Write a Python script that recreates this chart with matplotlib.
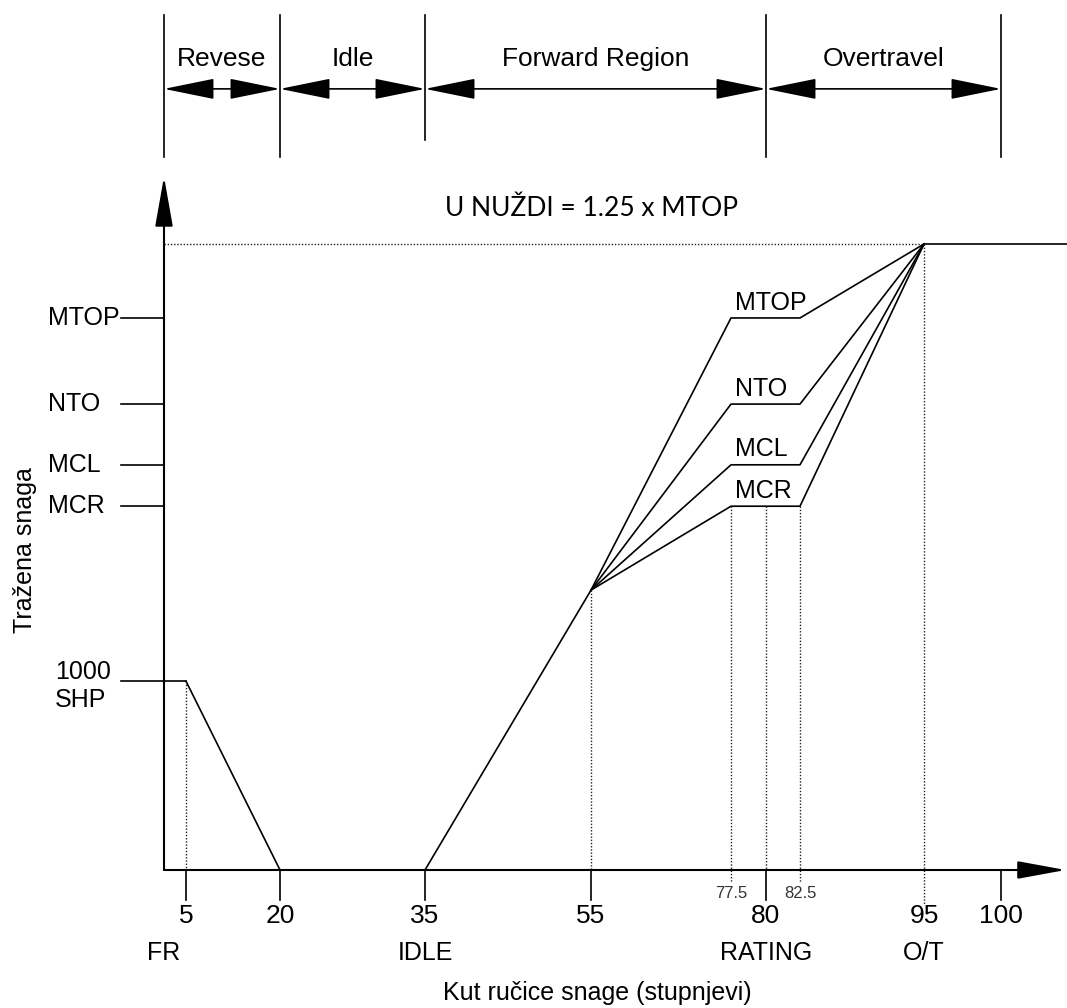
import matplotlib
matplotlib.use('Agg')
import matplotlib.pyplot as plt
import numpy as np

# power lever angle (deg) -- the sketch is not drawn to scale
x_ticks = [5, 20, 35, 55, 80, 100]
x_label_pos = [5, 20, 35, 55, 80, 95, 100]
x_tick_labels = ['5', '20', '35', '55', '80', '95', '100']
x_small_ticks = [77.5, 82.5]
x_small_labels = ['77.5', '82.5']
x_names_pos = [0, 35, 80, 95]
x_names = ['FR', 'IDLE', 'RATING', 'O/T']

region_edges = [0, 20, 35, 80, 100]
region_labels = ['Revese', 'Idle', 'Forward Region', 'Overtravel']

# demanded power, arbitrary units (MTOP = 100)
rating_names = ['MTOP', 'NTO', 'MCL', 'MCR']
rating_levels = [100.0, 84.4, 73.4, 65.9]
emergency_level = 113.4
shp_level = 34.2
fan_level = 50.7

fr_angle = 5
rev_end = 20
idle_angle = 35
fan_angle = 55
rating_lo, rating_mid, rating_hi = 77.5, 80, 82.5
ot_angle = 95

reverse_x = [fr_angle, rev_end]
reverse_y = [shp_level, 0]
forward_x = [idle_angle, fan_angle]
forward_y = [0, fan_level]

# schematic x scale (angle -> drawing position)
deg_anchor = np.array([-40, 0, 5, 20, 35, 55, 77.5, 80, 82.5, 95, 100, 110])
pos_anchor = np.array([0, 164, 186, 280, 425, 591, 731, 766, 800, 924, 1001, 1067], dtype=float)

def fwd(x):
    return np.interp(x, deg_anchor, pos_anchor)

def inv(p):
    return np.interp(p, pos_anchor, deg_anchor)

fs = 18
plt.rcParams['font.family'] = ['Liberation Sans', 'DejaVu Sans']

fig = plt.figure(figsize=(10.67, 10.08), dpi=100)
ax = fig.add_axes([0, 0, 1, 1])
ax.set_xscale('function', functions=(fwd, inv))
ax.set_xlim(-40, 110)
ax.set_ylim(-25.0, 157.6)
ax.axis('off')

lw = 1.2
dot = dict(color='#222222', lw=1.0, linestyle=(0, (1, 1.3)))

# axes with arrows
ax.annotate('', xy=(0, 125.6), xytext=(0, 0),
            arrowprops=dict(arrowstyle='-|>,head_length=31,head_width=5.5', mutation_scale=1,
                            color='black', lw=1.5, shrinkA=0, shrinkB=0))
ax.annotate('', xy=(109.8, 0), xytext=(0, 0),
            arrowprops=dict(arrowstyle='-|>,head_length=30,head_width=5.5', mutation_scale=1,
                            color='black', lw=1.5, shrinkA=0, shrinkB=0))

# region band at the top
for e in region_edges:
    bottom = 132.2 if e == idle_angle else 129.2
    ax.plot([e, e], [bottom, 154.9], color='black', lw=lw)
for i, lab in enumerate(region_labels):
    a, b = region_edges[i], region_edges[i + 1]
    ax.annotate('', xy=(b, 141.5), xytext=(a, 141.5),
                arrowprops=dict(arrowstyle='<|-|>,head_length=32,head_width=6.5', mutation_scale=1,
                                color='black', lw=1.2, shrinkA=0, shrinkB=0))
    mid = inv((fwd(a) + fwd(b)) / 2)
    ax.text(mid, 147.0, lab, ha='center', va='center', fontsize=19)

# x ticks
for t in x_ticks:
    ax.plot([t, t], [0, -5.4], color='black', lw=lw)
for t, lab in zip(x_label_pos, x_tick_labels):
    ax.text(t, -8.3, lab, ha='center', va='center', fontsize=19)
for t, lab in zip(x_small_ticks, x_small_labels):
    ax.text(t, -4.2, lab, ha='center', va='center', fontsize=12, color='#333333')
for t, lab in zip(x_names_pos, x_names):
    ax.text(t, -15.0, lab, ha='center', va='center', fontsize=fs)

ax.text(56.0, -22.2, 'Kut ručice snage (stupnjevi)', ha='center', va='center', fontsize=18)
ax.text(-33.9, 57.9, 'Tražena snaga', ha='center', va='center', rotation=90, fontsize=18)

# left level marks
for name, lev in zip(rating_names, rating_levels):
    ax.plot([-10.5, 0], [lev, lev], color='black', lw=lw)
    ax.text(-28.3, lev, name, ha='left', va='center', fontsize=fs)
ax.plot([-10.5, fr_angle], [shp_level, shp_level], color='black', lw=lw)
ax.text(-26.6, 33.3, '1000\nSHP', ha='left', va='center', fontsize=fs, linespacing=1.2)

# emergency level
ax.plot([0, ot_angle], [emergency_level, emergency_level], **dot)
ax.plot([ot_angle, 110], [emergency_level, emergency_level], color='black', lw=lw)
ax.text(55.1, 119.8, 'U NUŽDI = 1.25 x MTOP', ha='center', va='center', fontsize=19,
        family=['Lato', 'DejaVu Sans'])

# power curves
ax.plot(reverse_x, reverse_y, color='black', lw=lw)
ax.plot(forward_x, forward_y, color='black', lw=lw)
for name, lev in zip(rating_names, rating_levels):
    ax.plot([fan_angle, rating_lo, rating_hi, ot_angle],
            [fan_level, lev, lev, emergency_level], color='black', lw=lw)
    ax.text(77.8, lev + 0.6, name, ha='left', va='bottom', fontsize=fs)

# dotted guides
ax.plot([fr_angle, fr_angle], [shp_level, 0], **dot)
ax.plot([fan_angle, fan_angle], [fan_level, 0], **dot)
ax.plot([rating_lo, rating_lo], [rating_levels[-1], -2.2], **dot)
ax.plot([rating_mid, rating_mid], [rating_levels[-1], 0], **dot)
ax.plot([rating_hi, rating_hi], [rating_levels[-1], -2.2], **dot)
ax.plot([ot_angle, ot_angle], [emergency_level, -6.3], **dot)

fig.savefig('out.png', dpi=100)
